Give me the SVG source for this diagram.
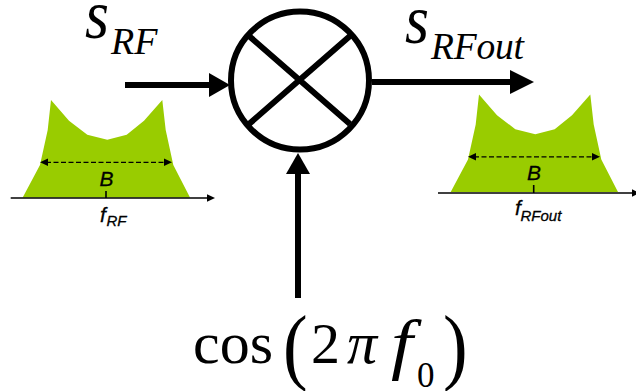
<svg xmlns="http://www.w3.org/2000/svg" width="636" height="391" viewBox="0 0 636 391">
<style>
.s{font-family:"Liberation Serif","Times New Roman",serif;font-style:italic;fill:#000}
.r{font-family:"Liberation Serif","Times New Roman",serif;fill:#000}
.a{font-family:"Liberation Sans",Arial,sans-serif;font-style:italic;fill:#000;stroke:#000;stroke-width:.3}
.w{stroke:#000;stroke-width:6;fill:none}
.t{stroke:#000;stroke-width:1.6;fill:none}
.d{stroke:#000;stroke-width:1.3;stroke-dasharray:5 2.500;fill:none}
.g{fill:#99cc00}
</style>
<defs>
<path id="band" class="g" d="M22.7 197.5L40 165L47.7 130L51 100L69 120.7L87.3 134.7L107.3 139.7L126.7 134.7L144 120.7L162.3 100L165.7 130L173.3 165L190 197.5Z"/>
<g id="bw">
<path class="d" d="M46 162.3H167"/>
<path d="M40 162.3L48 158.6V166Z"/>
<path d="M172 162.3L164 158.6V166Z"/>
</g>
</defs>
<rect width="636" height="391" fill="#fff"/>
<g id="connectors">
<path class="w" d="M125 85H212"/><path d="M230 85L209 73V97Z"/>
<path class="w" d="M372 82H512"/><path d="M534 82L510 70V94Z"/>
<path class="w" d="M298 298V172"/><path d="M298 153L286 174H310Z"/>
</g>
<g id="mixer">
<circle class="w" cx="300" cy="80.5" r="69"/>
<path class="w" d="M249 36L350 124M350 36L249 124"/>
</g>
<g id="label-srf">
<text class="s" transform="translate(85 38) scale(.88 1)" font-size="70">s</text>
<text class="s" x="111" y="54" font-size="38">RF</text>
</g>
<g id="label-srfout">
<text class="s" transform="translate(405 43) scale(.88 1)" font-size="70">s</text>
<text class="s" x="431" y="59" font-size="37.5" textLength="93">RFout</text>
</g>
<g id="spectrum-in">
<use href="#band"/>
<use href="#bw"/>
<path class="t" d="M10.7 198H209"/><path d="M215 198L207 194.3V201.7Z"/>
<path class="t" d="M106 191V198"/>
<text class="a" x="99.500" y="186" font-size="21">B</text>
<text class="a" x="100" y="222" font-size="21">f</text>
<text class="a" x="106.500" y="226" font-size="15">RF</text>
</g>
<g id="spectrum-out">
<use href="#band" transform="translate(428 -5.500)"/>
<use href="#bw" transform="translate(428 -5.500)"/>
<path class="t" d="M438 193H632"/><path d="M640 193L632 189.300V196.700Z"/>
<path class="t" d="M533.700 185V193"/>
<text class="a" x="527" y="179.500" font-size="21">B</text>
<text class="a" x="515" y="215" font-size="21">f</text>
<text class="a" x="520.500" y="221" font-size="15">RFout</text>
</g>
<g id="label-cos">
<text class="r" x="193" y="363" font-size="60">cos</text>
<text class="r" transform="translate(283 374) scale(.88 1)" font-size="84">(</text>
<text class="r" x="311" y="363" font-size="58">2</text>
<text class="s" x="347" y="363" font-size="60">π</text>
<text class="s" transform="translate(391 367) scale(1.15 1)" font-size="68">f</text>
<text class="r" x="417" y="387" font-size="35">0</text>
<text class="r" transform="translate(443 374) scale(.88 1)" font-size="84">)</text>
</g>
</svg>
